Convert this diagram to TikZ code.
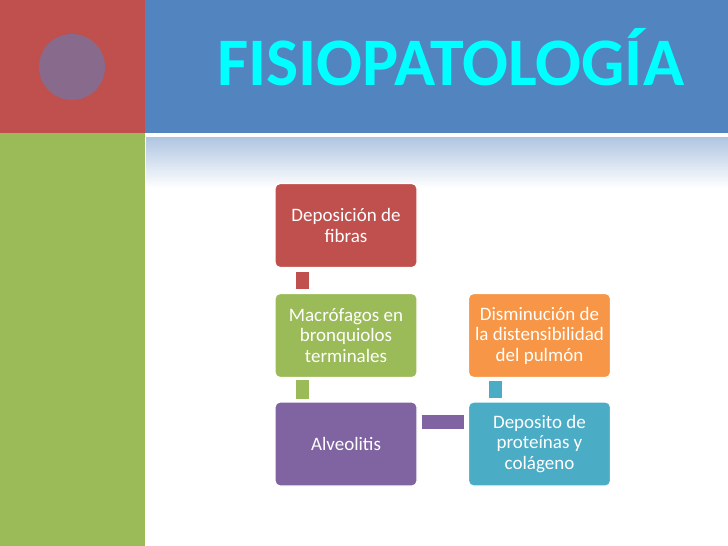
\documentclass[tikz,border=0pt]{standalone}
\usepackage{fontspec}
\setmainfont{Carlito}
\definecolor{cred}{HTML}{C0504D}
\definecolor{cblue}{HTML}{5284BF}
\definecolor{cgreen}{HTML}{9BBB59}
\definecolor{cpurple}{HTML}{8064A2}
\definecolor{ccirc}{HTML}{886A8C}
\definecolor{cteal}{HTML}{4BACC6}
\definecolor{corange}{HTML}{F79646}
\definecolor{gradtop}{HTML}{AFC5E1}
\definecolor{cyantitle}{HTML}{00FFFF}
\tikzset{
  box/.style={rectangle, rounded corners=5pt, minimum width=142pt, minimum height=84pt,
    inner sep=2pt, align=center, text=white, draw=white, line width=1.2pt,
    font=\fontsize{19}{20.5}\selectfont},
  conn/.style={line width=13pt}
}
\begin{document}
\begin{tikzpicture}[x=1pt,y=-1pt]
\useasboundingbox (0,0) rectangle (728,546);
\fill[white] (0,0) rectangle (728,546);
% background panels
\fill[cred] (0,0) rectangle (145,133);
\fill[cblue] (145,0) rectangle (728,133);
\fill[cgreen] (0,133) rectangle (145,546);
\shade[top color=gradtop, bottom color=white] (146,137) rectangle (728,188);
\fill[ccirc] (72,67) circle (33);
\node[anchor=base west, inner sep=0, text=cyantitle, font=\fontsize{68}{68}\bfseries\selectfont] (title) at (217,85) {FISIOPATOLOGÍA};
% boxes
\node[box, fill=cred] (n1) at (346,225.5) {Deposición de\\fibras};
\node[box, fill=cgreen] (n2) at (346,335.5) {Macrófagos en\\bronquiolos\\terminales};
\node[box, fill=cpurple] (n3) at (346,444) {Alveolitis};
\node[box, fill=cteal] (n4) at (539.5,444) {Deposito de\\proteínas y\\colágeno};
\node[box, fill=corange] (n5) at (539.5,335.5) {Disminución de\\la distensibilidad\\del pulmón};
% connectors
\draw[conn, cred, shorten <=4pt, shorten >=4pt] ([xshift=28pt]n1.south west) -- ([xshift=28pt]n2.north west);
\draw[conn, cgreen, shorten <=2pt, shorten >=2pt] ([xshift=28pt]n2.south west) -- ([xshift=28pt]n3.north west);
\draw[conn, cpurple, line width=14pt, shorten <=4pt, shorten >=4pt] ([yshift=-21pt]n3.north east) -- ([yshift=-21pt]n4.north west);
\draw[conn, cteal, shorten <=3pt, shorten >=3pt] ([xshift=28pt]n4.north west) -- ([xshift=28pt]n5.south west);
\end{tikzpicture}
\end{document}
